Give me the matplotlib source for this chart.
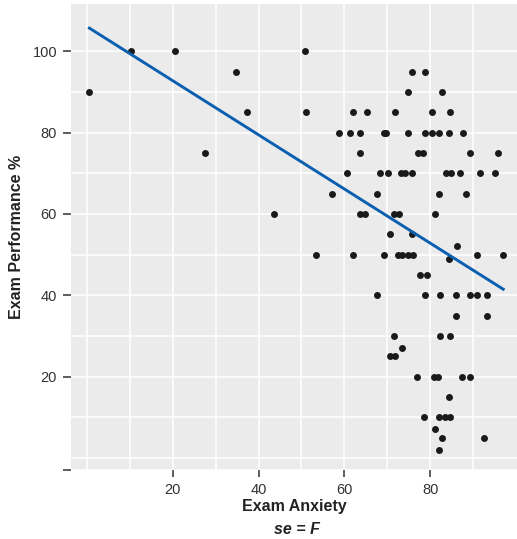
import numpy as np
import matplotlib
matplotlib.use('Agg')
import matplotlib.pyplot as plt

# exam anxiety scores (x) and exam performance % (y)
anxiety = [0.6, 10.3, 20.6, 34.8, 37.3, 27.6, 43.5,
           50.9, 51.1, 75.7, 78.7, 74.8, 82.8,
           61.9, 65.3, 71.7, 80.5, 84.5,
           58.8, 61.3, 63.6, 69.2, 69.8, 74.8, 78.7, 80.4, 82.0, 84.4, 87.6,
           63.6, 77.2, 78.2, 89.2, 95.7,
           60.5, 68.3, 70.2, 73.2, 74.1, 75.7, 83.6, 84.8, 86.9, 91.6, 95.0,
           57.2, 67.7, 82.1, 88.4,
           63.6, 64.8, 71.6, 72.7, 81.2,
           70.7, 75.7, 86.2,
           53.3, 61.9, 69.3, 72.5, 73.5, 74.9, 76.0, 90.8, 97.0,
           84.3, 77.6, 79.2,
           67.6, 78.8, 82.2, 86.0, 89.2, 90.8, 93.2,
           86.0, 93.2,
           71.6, 82.2, 84.5,
           73.4, 70.6, 71.8,
           77.0, 80.9, 81.8, 87.5, 89.2,
           84.3,
           78.6, 82.0, 83.5, 84.6,
           81.2, 82.8, 92.5, 82.1]
exam = [90, 100, 100, 95, 85, 75, 60,
        100, 85, 95, 95, 90, 90,
        85, 85, 85, 85, 85,
        80, 80, 80, 80, 80, 80, 80, 80, 80, 80, 80,
        75, 75, 75, 75, 75,
        70, 70, 70, 70, 70, 70, 70, 70, 70, 70, 70,
        65, 65, 65, 65,
        60, 60, 60, 60, 60,
        55, 55, 52,
        50, 50, 50, 50, 50, 50, 50, 50, 50,
        49, 45, 45,
        40, 40, 40, 40, 40, 40, 40,
        35, 35,
        30, 30, 30,
        27, 25, 25,
        20, 20, 20, 20, 20,
        15,
        10, 10, 10, 10,
        7, 5, 5, 2]

# linear fit shown on the chart
intercept = 106.07
slope = -0.666

x_ticks = [20, 40, 60, 80]
y_ticks = [20, 40, 60, 80, 100]

fig = plt.figure(figsize=(5.17, 5.39), dpi=100)
ax = fig.add_axes([71/517, 1 - 470/539, 446/517, 466/539])
ax.set_facecolor('#EBEBEB')
for s in ax.spines.values():
    s.set_visible(False)

xlo, xhi = -3.68, 100.2
ylo, yhi = -2.98, 111.6

ax.set_xticks(x_ticks)
ax.set_xticks([0, 10, 30, 50, 70, 90], minor=True)
ax.set_yticks([ylo] + y_ticks)
ax.set_yticklabels([''] + [str(v) for v in y_ticks])
ax.set_yticks([0, 10, 30, 50, 70, 90], minor=True)
ax.grid(True, which='both', color='white', linewidth=1.1)
ax.set_axisbelow(True)
ax.tick_params(which='minor', length=0)
ax.tick_params(which='major', color='#333333', width=1.1, labelcolor='#333333',
               labelsize=10.5)
ax.tick_params(axis='y', length=6, pad=4)
ax.tick_params(axis='x', length=5, pad=4)

ax.scatter(anxiety, exam, s=25, color='#1a1a1a', zorder=3, linewidths=0)

xs = np.array([min(anxiety), max(anxiety)])
ax.plot(xs, intercept + slope * xs, color='#0B5FB0', linewidth=2.1, zorder=4)

ax.set_xlim(xlo, xhi)
ax.set_ylim(ylo, yhi)

for lab in ax.get_xticklabels() + ax.get_yticklabels():
    lab.set_fontfamily('Liberation Sans')

ax.set_xlabel('Exam Anxiety', fontsize=11.5, fontweight='bold',
              fontfamily='Liberation Sans', color='#222222', labelpad=2)
ax.set_ylabel('Exam Performance %', fontsize=11.5, fontweight='bold',
              fontfamily='Liberation Sans', color='#222222', labelpad=6)
fig.text(297/517, 1 - 530/539, 'se = F', ha='center', va='center',
         fontsize=11.5, fontweight='bold', fontstyle='italic',
         fontfamily='Liberation Sans', color='#222222')

fig.savefig('out.png', dpi=100)
